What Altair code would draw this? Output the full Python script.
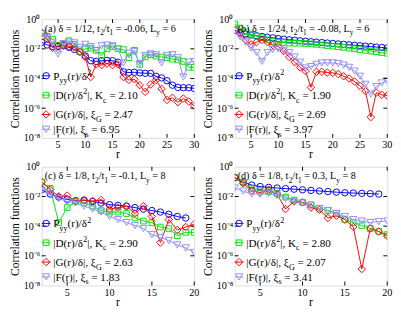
import altair as alt
import pandas as pd

FONT = "Liberation Serif"
W, H = 158, 123

# ---------------- data: log10 of the correlation functions ----------------
r_ab = list(range(2, 31))
r_cd = list(range(2, 21))
r_cd_p = list(range(2, 20))

a_P = [-1.56, -1.74, -1.84, -1.84, -1.80, -1.90, -2.04, -2.20, -2.48, -2.80, -2.85, -2.80, -2.78, -2.80, -2.90,
       -3.55, -3.60, -3.58, -3.62, -3.65, -3.65, -3.85, -3.96, -4.15, -4.45, -4.60, -4.62, -4.62, -4.67]
a_D = [-0.95, -1.15, -1.35, -1.75, -1.70, -1.45, -1.70, -2.20, -2.00, -1.95, -2.10, -2.45, -2.00, -1.85, -2.00,
       -2.05, -2.60, -2.10, -3.05, -2.55, -2.40, -2.50, -2.55, -2.60, -2.70, -2.75, -2.85, -3.25, -3.25]
a_G = [-0.93, -1.33, -1.94, -1.80, -1.74, -1.84, -1.90, -2.20, -2.55, -3.90, -3.05, -3.10, -3.00, -3.10, -3.05,
       -3.90, -4.10, -4.05, -4.45, -4.90, -4.40, -4.10, -4.70, -5.45, -5.30, -5.60, -5.35, -5.55, -5.85]
a_F = [-0.95, -1.25, -1.55, -2.35, -1.65, -1.55, -1.60, -1.90, -1.70, -1.85, -2.10, -1.80, -1.75, -1.80, -2.00,
       -2.95, -2.30, -2.20, -3.00, -2.45, -2.35, -2.40, -2.95, -2.45, -2.40, -2.60, -3.90, -2.90, -2.85]

b_P = [-0.75, -0.90, -1.00, -1.07, -1.12, -1.17, -1.22, -1.26, -1.31, -1.35, -1.39, -1.42, -1.46, -1.49, -1.52,
       -1.55, -1.58, -1.61, -1.64, -1.67, -1.70, -1.73, -1.76, -1.79, -1.82, -1.85, -1.88, -1.91, -1.94]
b_D = [-0.33, -0.60, -0.85, -1.00, -1.15, -1.25, -1.40, -1.50, -1.55, -1.58, -1.62, -1.62, -1.62, -1.64, -1.66,
       -1.70, -1.74, -1.78, -1.82, -1.86, -1.90, -1.95, -2.00, -2.05, -2.10, -2.15, -2.20, -2.25, -2.30]
b_G = [-0.73, -1.00, -1.40, -1.70, -1.55, -1.40, -1.55, -1.75, -1.85, -2.15, -2.55, -2.90, -3.25, -3.50, -4.60,
       -3.55, -3.55, -3.60, -3.62, -3.70, -3.85, -4.00, -4.20, -4.50, -4.85, -6.60, -4.95, -5.10, -5.15]
b_F = [-0.80, -1.20, -1.55, -1.95, -2.25, -2.85, -2.25, -2.05, -2.00, -2.10, -2.25, -2.55, -2.90, -3.30, -3.20,
       -3.05, -2.95, -2.95, -2.95, -3.00, -3.10, -3.25, -3.50, -3.85, -4.40, -5.05, -4.55, -4.30, -4.15]

c_P = [-1.54, -1.84, -2.04, -2.20, -2.28, -2.24, -2.34, -2.44, -2.55, -2.60, -2.65, -2.75, -2.85, -2.95, -3.05,
       -3.20, -3.35, -3.45]
c_D = [-1.03, -1.45, -3.76, -2.75, -2.34, -2.44, -2.65, -2.95, -3.05, -3.05, -3.15, -3.45, -3.66, -3.76, -4.06,
       -4.16, -4.65, -4.42, -4.42]
c_G = [-1.03, -1.54, -2.00, -1.94, -2.30, -2.28, -2.30, -2.24, -2.85, -2.75, -2.65, -3.15, -2.65, -3.35, -5.11,
       -3.56, -4.26, -4.06, -3.86]
c_F = [-1.64, -1.84, -2.14, -2.34, -2.44, -2.65, -2.85, -3.05, -3.35, -3.56, -3.76, -3.96, -4.16, -4.57, -4.77,
       -4.97, -5.27, -5.47, -5.78]

d_P = [-0.73, -1.03, -1.23, -1.33, -1.39, -1.43, -1.47, -1.51, -1.55, -1.59, -1.63, -1.67, -1.71, -1.75, -1.77,
       -1.79, -1.81, -1.84]
d_D = [-0.73, -1.03, -1.47, -1.60, -1.68, -1.80, -2.04, -2.24, -2.40, -2.55, -2.81, -2.95, -3.15, -3.56, -3.76,
       -3.96, -4.16, -4.36, -4.57]
d_G = [-0.73, -1.13, -1.60, -1.74, -1.54, -1.84, -2.85, -2.34, -2.40, -2.75, -2.90, -3.45, -3.30, -3.56, -4.06,
       -6.89, -4.16, -4.36, -4.67]
d_F = [-1.43, -1.64, -1.84, -1.84, -1.80, -1.94, -2.14, -2.34, -2.44, -2.65, -2.81, -2.95, -3.15, -3.35, -3.56,
       -3.66, -3.76, -3.70, -3.66]

x_ticks_ab = [5, 10, 15, 20, 25, 30]
x_ticks_cd = [5, 10, 15, 20]
y_ticks = [1, 1e-2, 1e-4, 1e-6, 1e-8]

titles = [
    [("(a) δ = 1/12, t", "n"), ("2", "sub"), ("/t", "n"), ("1", "sub"), (" = -0.06, L", "n"), ("y", "sub"), (" = 6", "n")],
    [("(b) δ = 1/24, t", "n"), ("2", "sub"), ("/t", "n"), ("1", "sub"), (" = -0.08, L", "n"), ("y", "sub"), (" = 6", "n")],
    [("(c) δ = 1/8, t", "n"), ("2", "sub"), ("/t", "n"), ("1", "sub"), (" = -0.1, L", "n"), ("y", "sub"), (" = 8", "n")],
    [("(d) δ = 1/8, t", "n"), ("2", "sub"), ("/t", "n"), ("1", "sub"), (" = 0.3, L", "n"), ("y", "sub"), (" = 8", "n")],
]
Kc = ["2.10", "1.90", "2.90", "2.80"]
xiG = ["2.47", "2.69", "2.63", "2.07"]
xis = ["6.95", "3.97", "1.83", "3.41"]

# ---------------- styling ----------------
NAMES = ["P", "D", "G", "F"]
COLORS = {"P": "#0000ff", "D": "#00e600", "G": "#ff0000", "F": "#8f8fff"}
SHAPES = {"P": "circle", "D": "square", "G": "diamond", "F": "triangle-down"}
SIZES = {"P": 44, "D": 34, "G": 60, "F": 56}
LEG_FRAC = [0.477, 0.640, 0.803, 0.928]

CW = {' ': 0.25, '(': 0.333, ')': 0.333, 'a': 0.444, 'b': 0.5, 'c': 0.444, 'd': 0.5, '.': 0.25, ',': 0.25,
      '/': 0.278, '=': 0.564, '-': 0.333, '|': 0.2, 'P': 0.556, 'D': 0.722, 'G': 0.722, 'F': 0.556,
      'K': 0.722, 'L': 0.611, 'r': 0.333, 't': 0.278, 'y': 0.5, 's': 0.389, 'δ': 0.5, 'ξ': 0.44}


def tw(s, fs):
    return sum(CW.get(ch, 0.5) for ch in s) * fs


def rich(pieces, x0, y0, fs):
    out = []
    x = x0
    for t, k in pieces:
        if k == "n":
            f, dy = fs, 0.0
        elif k == "sub":
            f, dy = fs * 0.72, fs * 0.32
        else:
            f, dy = fs * 0.72, -fs * 0.42
        lead = len(t) - len(t.lstrip(" "))
        out.append({"t": t.strip(" "), "x": x + tw(t[:lead], f), "y": y0 + dy, "fs": f})
        x += tw(t, f)
    return out


EXPR = ("datum.value > 0.5 ? '10⁰' : datum.value > 0.005 ? '10⁻²' : datum.value > 0.00005 ? '10⁻⁴' : "
        "datum.value > 0.0000005 ? '10⁻⁶' : '10⁻⁸'")


def panel(idx, r_main, r_p, vals, xmax, xticks):
    xsc = alt.Scale(domain=[2, xmax], nice=False, zero=False)
    ysc = alt.Scale(type="log", domain=[1e-8, 1], nice=False)
    yax = alt.Axis(values=y_ticks, labelExpr=EXPR, title="Correlation functions", grid=False, ticks=False,
                   domain=False, labelOverlap=False, labelFont=FONT, labelFontSize=10.5, labelPadding=2,
                   labelColor="black", titleFont=FONT, titleFontSize=12, titleFontWeight="normal",
                   titlePadding=1, titleColor="black")
    layers = []
    for name in NAMES:
        rr = r_p if name == "P" else r_main
        df = pd.DataFrame({"r": rr, "v": [10 ** e for e in vals[name]]})
        base = alt.Chart(df).encode(x=alt.X("r:Q", scale=xsc, axis=None), y=alt.Y("v:Q", scale=ysc, axis=yax))
        layers.append(base.mark_line(color=COLORS[name], strokeWidth=1, clip=True))
        layers.append(base.mark_point(shape=SHAPES[name], color=COLORS[name], size=SIZES[name], filled=False,
                                      strokeWidth=1, opacity=1, clip=True))
    # inward ticks (MATLAB style)
    tdf = pd.DataFrame({"r": xticks})
    layers.append(alt.Chart(tdf).mark_tick(color="black", size=4, thickness=1, opacity=1).encode(
        x=alt.X("r:Q", scale=xsc, axis=None), y=alt.value(H - 2)))
    layers.append(alt.Chart(tdf).mark_tick(color="black", size=4, thickness=1, opacity=1).encode(
        x=alt.X("r:Q", scale=xsc, axis=None), y=alt.value(2)))
    ydf = pd.DataFrame({"v": y_ticks[1:-1]})
    layers.append(alt.Chart(ydf).mark_tick(color="black", size=4, thickness=1, opacity=1).encode(
        y=alt.Y("v:Q", scale=ysc, axis=yax), x=alt.value(2)))
    layers.append(alt.Chart(ydf).mark_tick(color="black", size=4, thickness=1, opacity=1).encode(
        y=alt.Y("v:Q", scale=ysc, axis=yax), x=alt.value(W - 2)))
    # x tick labels and x title
    layers.append(alt.Chart(tdf).mark_text(align="center", baseline="top", font=FONT, fontSize=10.5,
                                           color="black").encode(
        x=alt.X("r:Q", scale=xsc, axis=None), y=alt.value(H + 3), text=alt.Text("r:Q", format="d")))
    layers.append(alt.Chart(pd.DataFrame({"k": [0]})).mark_text(
        align="center", baseline="top", font=FONT, fontSize=12, color="black").encode(
        x=alt.value(W / 2), y=alt.value(H + 12), text=alt.value("r")))
    # legend
    one = pd.DataFrame({"k": [0]})
    fs_leg = 11.5
    leg_pieces = [
        [("P", "n"), ("yy", "sub"), ("(r)/δ", "n"), ("2", "sup")],
        [("|D(r)/δ", "n"), ("2", "sup"), ("|, K", "n"), ("c", "sub"), (" = " + Kc[idx], "n")],
        [("|G(r)/δ|, ξ", "n"), ("G", "sub"), (" = " + xiG[idx], "n")],
        [("|F(r)|, ξ", "n"), ("s", "sub"), (" = " + xis[idx], "n")],
    ]
    rows = rich(titles[idx], 3, 13, 10.5)
    for i, name in enumerate(NAMES):
        yc = LEG_FRAC[i] * H
        layers.append(alt.Chart(one).mark_rule(color=COLORS[name], strokeWidth=1).encode(
            x=alt.value(0), x2=alt.value(9), y=alt.value(yc)))
        layers.append(alt.Chart(one).mark_point(shape=SHAPES[name], color=COLORS[name], size=SIZES[name],
                                                filled=False, strokeWidth=1, opacity=1).encode(
            x=alt.value(4.5), y=alt.value(yc)))
        rows += rich(leg_pieces[i], 12, yc + 4, fs_leg)
    txt = pd.DataFrame(rows)
    layers.append(alt.Chart(txt).mark_text(align="left", baseline="alphabetic", font=FONT, color="black").encode(
        x=alt.X("x:Q", scale=None, axis=None), y=alt.Y("y:Q", scale=None, axis=None), text="t:N",
        size=alt.Size("fs:Q", scale=None, legend=None)))
    return alt.layer(*layers).properties(width=W, height=H)


pa = panel(0, r_ab, r_ab, {"P": a_P, "D": a_D, "G": a_G, "F": a_F}, 30, x_ticks_ab)
pb = panel(1, r_ab, r_ab, {"P": b_P, "D": b_D, "G": b_G, "F": b_F}, 30, x_ticks_ab)
pc = panel(2, r_cd, r_cd_p, {"P": c_P, "D": c_D, "G": c_G, "F": c_F}, 20, x_ticks_cd)
pd_ = panel(3, r_cd, r_cd_p, {"P": d_P, "D": d_D, "G": d_G, "F": d_F}, 20, x_ticks_cd)

chart = alt.vconcat(
    alt.hconcat(pa, pb, spacing=1),
    alt.hconcat(pc, pd_, spacing=1),
    spacing=0,
).properties(padding=0).configure_view(stroke="black", strokeWidth=1).configure(font=FONT)

chart.save("out.html", embed_options={"renderer": "svg", "actions": False})
